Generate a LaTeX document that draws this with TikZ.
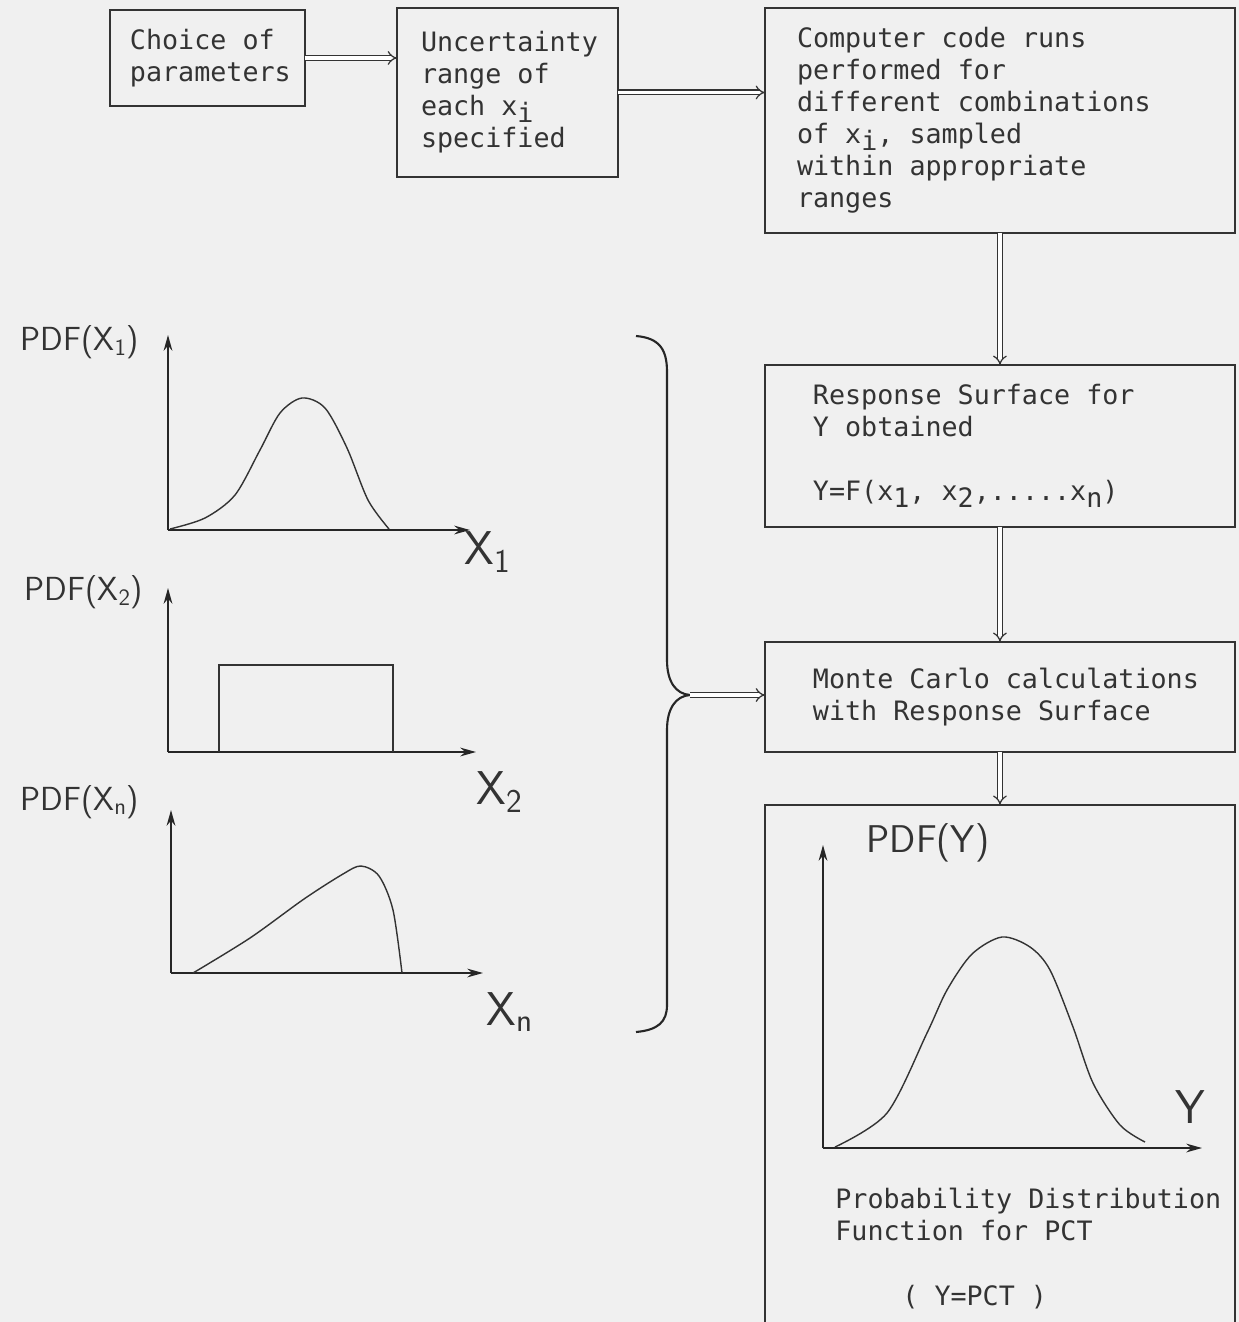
\documentclass[tikz,border=0pt]{standalone}
\usepackage{fontspec}
\setmonofont{DejaVu Sans Mono}
\usetikzlibrary{arrows.meta,positioning,calc}
\newcommand{\dn}[1]{\raisebox{-0.45ex}{#1}}

\begin{document}
\begin{tikzpicture}[
    x=0.02cm, y=-0.02cm,
    every node/.style={text=black!80},
    txt/.style={inner sep=0pt, align=left, font=\ttfamily\fontsize{15.2}{18.2}\selectfont},
    box/.style={txt, align=flush left, draw=black!80, line width=0.9pt, outer sep=0pt, inner ysep=3pt},
    dbl/.style={draw=black!80, double, double distance=2pt, line width=0.7pt, -{Implies[scale=1.3]}},
    axis/.style={draw=black!85, line width=0.9pt, -{Stealth[length=9pt,width=5pt]}},
    curve/.style={draw=black!80, line width=0.8pt},
    hand/.style={font=\sffamily\fontsize{19}{22}\selectfont},
    varlab/.style={font=\sffamily\fontsize{27}{29}\selectfont}
    ]
    \clip (0,0) rectangle (1239,1322);
    \fill[black!6] (0,0) rectangle (1239,1322);
    % Top row
    \node[box, anchor=north west, inner xsep=0.4cm, text width=3.1cm, minimum height=1.92cm] (choice) at (110,10) {Choice~of\\parameters};
    \node[box, anchor=north west, inner xsep=0.48cm, text width=3.46cm, minimum height=3.38cm] (range) at (397,8) {Uncertainty\\range~of\\each~x\dn{i}\\specified};
    \node[box, anchor=north west, inner xsep=0.64cm, text width=8.12cm, minimum height=4.5cm] (runs) at (765,8) {Computer~code~runs\\performed~for\\different~combinations\\of~x\dn{i},~sampled\\within~appropriate\\ranges};
    \draw[dbl] (choice.east) -- (choice.east -| range.west);
    \draw[dbl] (range.east) -- (range.east -| runs.west);
    % Right column
    \node[box, below=2.64cm of runs, inner xsep=0.96cm, text width=7.48cm, minimum height=3.24cm] (surf) {Response~Surface~for\\Y~obtained\\[18.2pt]Y=F(x\dn{1},~x\dn{2},.....x\dn{n})};
    \draw[dbl] (runs.south) -- (surf.north);
    \node[box, below=2.3cm of surf, inner xsep=0.96cm, text width=7.48cm, minimum height=2.2cm] (monte) {Monte~Carlo~calculations\\with~Response~Surface};
    \draw[dbl] (surf.south) -- (monte.north);
    \node[box, below=1.06cm of monte, minimum width=9.4cm, minimum height=10.9cm] (pct) {};
    \draw[dbl] (monte.south) -- (pct.north);
    % PDF of Y inside the last box
    \draw[axis] (823,1148) -- (823,845);
    \draw[axis] (823,1148) -- (1202,1148);
    \draw[curve] plot[smooth] coordinates {(835,1147) (887,1113) (927,1033) (947,990) (972,954) (1002,937) (1030,947) (1050,970) (1073,1027) (1093,1083) (1120,1125) (1145,1142)};
    \node[hand, font=\sffamily\fontsize{22}{24}\selectfont] (pdfy) at (928,843) {PDF(Y)};
    \node[varlab] (ylab) at (1190,1107) {Y};
    \node[txt, anchor=west] (pdftxt) at (835,1214) {Probability Distribution\\Function for PCT};
    \node[txt, anchor=west] (ypct) at (902,1297) {( Y=PCT )};
    % Input distributions
    \draw[axis] (168,530) -- (168,335);
    \draw[axis] (168,530) -- (470,530);
    \draw[curve] plot[smooth] coordinates {(170,529) (205,518) (235,495) (260,450) (280,413) (302,398) (325,408) (347,448) (368,500) (389,529)};
    \node[hand] (pdfa) at (80,342) {PDF(X\textsubscript{1})};
    \node[varlab] (xa) at (488,552) {X\textsubscript{1}};
    \draw[axis] (168,752) -- (168,588);
    \draw[axis] (168,752) -- (476,752);
    \draw[curve] (219,752) -- (219,665) -- (393,665) -- (393,752);
    \node[hand] (pdfb) at (84,592) {PDF(X\textsubscript{2})};
    \node[varlab] (xb) at (500,792) {X\textsubscript{2}};
    \draw[axis] (171,973) -- (171,810);
    \draw[axis] (171,973) -- (483,973);
    \draw[curve] plot[smooth] coordinates {(193,973) (250,938) (304,899) (343,874) (361,866) (379,876) (393,910) (402,973)};
    \node[hand] (pdfc) at (80,802) {PDF(X\textsubscript{n})};
    \node[varlab] (xc) at (510,1012) {X\textsubscript{n}};
    % Brace gathering the inputs
    \draw[draw=black!85, line width=1.2pt] (636,336) .. controls (660,338) and (667,350) .. (667,372) -- (667,660) .. controls (667,682) and (676,694) .. (690,695) .. controls (676,696) and (667,708) .. (667,730) -- (667,1005) .. controls (667,1022) and (658,1030) .. (636,1032);
    \coordinate (tip) at (690,695);
    \draw[dbl] (tip) -- (tip -| monte.west);
\end{tikzpicture}
\end{document}
